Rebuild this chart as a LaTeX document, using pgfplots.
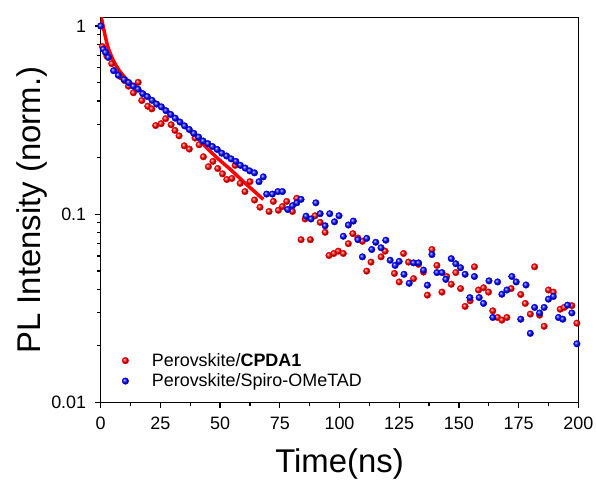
\documentclass[border=0pt]{standalone}
\usepackage{fontspec}
\setmainfont{Liberation Sans}
\usepackage{pgfplots}
\pgfplotsset{compat=1.18}
\begin{document}
\begin{tikzpicture}
\begin{axis}[
  scale only axis, width=477.6bp, height=384.8bp,
  xmin=0, xmax=200, ymode=log, ymin=0.01, ymax=1.107,
  xtick={0,25,50,75,100,125,150,175,200},
  minor xtick={12.5,37.5,62.5,87.5,112.5,137.5,162.5,187.5},
  ytick={0.01,0.1,1}, yticklabels={0.01,0.1,1},
  minor ytick={0.02,0.03,0.04,0.05,0.06,0.07,0.08,0.09,0.2,0.3,0.4,0.5,0.6,0.7,0.8,0.9},
  xtick pos=bottom, ytick pos=left, tick align=outside,
  major tick length=6bp, minor tick length=3.5bp,
  every tick/.style={black, line width=1.2bp},
  axis line style={line width=1.5bp},
  /pgf/number format/assume math mode=true,
  tick label style={font=\fontsize{18}{20}\selectfont},
  xticklabel style={yshift=-5bp},
  yticklabel style={xshift=-5bp},
  xlabel={Time(ns)}, ylabel={PL Intensity (norm.)},
  label style={font=\fontsize{33}{36}\selectfont},
  xlabel style={yshift=-12bp},
  ylabel style={yshift=-3bp},
  legend style={draw=none, fill=none, at={(0,0)}, anchor=south west, xshift=18bp, yshift=10bp,
    font=\fontsize{18}{20}\selectfont, row sep=2bp, column sep=21bp},
  legend cell align=left,
  legend image code/.code={\draw[mark repeat=2,mark phase=2] plot coordinates {(0bp,0bp)(10bp,0bp)(20bp,0bp)};},
]
\addplot[red, only marks, mark=ball, ball color=red, mark size=3.3bp] coordinates {
(0,1.0)(0.7,0.778)(2.6,0.692)(4.6,0.631)(6.5,0.582)(8.5,0.537)(10.0,0.513)(11.6,0.479)(13.7,0.442)(15.7,0.502)
(17.2,0.402)(19.7,0.375)(21.4,0.363)(23.0,0.296)(25.3,0.303)(27.2,0.322)(29.5,0.299)(31.1,0.279)(32.8,0.261)
(35.0,0.231)(37.1,0.222)(39.5,0.254)(41.2,0.234)(43.0,0.202)(45.1,0.179)(47.0,0.191)(49.0,0.175)(51.0,0.164)
(52.8,0.153)(54.9,0.155)(56.3,0.182)(58.4,0.146)(60.4,0.132)(62.5,0.149)(64.4,0.119)(66.7,0.109)(70.5,0.1035)
(72.3,0.117)(74.4,0.105)(76.1,0.110)(77.9,0.117)(80.3,0.1035)(82.1,0.1216)(83.9,0.0733)(85.6,0.0944)(87.8,0.0733)
(89.8,0.0982)(91.9,0.0906)(94.0,0.0802)(95.6,0.0604)(97.6,0.0619)(99.5,0.0637)(101.6,0.0619)(103.7,0.0698)
(105.6,0.0789)(107.7,0.0748)(109.6,0.0719)(111.4,0.0499)(113.2,0.0557)(117.4,0.0594)(119.1,0.0637)(123.0,0.0485)
(125.0,0.0437)(126.8,0.0619)(128.9,0.0557)(131.0,0.0455)(133.1,0.0542)(135.2,0.0493)(136.8,0.0372)(138.7,0.0650)
(140.8,0.0535)(142.9,0.0386)(144.9,0.0467)(146.8,0.0425)(148.7,0.0490)(150.7,0.0403)(152.6,0.0324)(154.7,0.0347)
(156.5,0.0526)(158.2,0.0396)(160.3,0.0407)(162.4,0.0386)(164.2,0.0307)(166.2,0.0283)(168.0,0.0274)(170.1,0.0283)
(171.9,0.0403)(175.9,0.0375)(177.8,0.0336)(179.9,0.0295)(181.7,0.0526)(183.8,0.0291)(185.7,0.0254)(187.5,0.0396)
(189.6,0.0386)(192.4,0.0313)(194.1,0.0320)(197.3,0.0327)(199.4,0.0264)(201.5,0.0327)
};
\addlegendentry{Perovskite/\textbf{CPDA1}}
\addplot[blue, only marks, mark=ball, ball color=blue, mark size=3.3bp] coordinates {
(0,1.000)(1.1,0.753)(2.0,0.724)(3.2,0.681)(5.4,0.579)(7.4,0.547)(9.8,0.519)(11.7,0.501)(13.7,0.479)(15.6,0.462)
(17.6,0.437)(19.5,0.422)(21.5,0.403)(23.4,0.385)(25.4,0.372)(27.3,0.355)(29.3,0.339)(31.2,0.324)(33.2,0.309)
(35.1,0.295)(37.1,0.282)(39.0,0.269)(41.0,0.257)(42.9,0.245)(44.9,0.237)(46.8,0.229)(48.8,0.221)(50.7,0.211)
(52.7,0.204)(54.6,0.197)(56.6,0.191)(58.5,0.182)(60.5,0.176)(62.4,0.170)(64.4,0.166)(66.3,0.149)(68.1,0.158)
(69.5,0.128)(71.9,0.128)(74.2,0.132)(76.1,0.132)(78.3,0.106)(80.3,0.111)(82.1,0.115)(83.9,0.120)(86.0,0.0977)
(88.1,0.0944)(90.1,0.115)(91.9,0.1007)(94.0,0.0869)(95.9,0.1007)(97.9,0.0912)(99.8,0.0982)(101.6,0.0764)
(103.7,0.0877)(105.8,0.0920)(107.7,0.0733)(109.6,0.0594)(111.4,0.0745)(113.5,0.0650)(115.2,0.0710)(117.4,0.0664)
(119.4,0.0728)(121.2,0.0570)(123.3,0.0535)(125.0,0.0562)(127.0,0.0480)(129.2,0.0430)(131.0,0.0552)(133.1,0.0552)
(135.2,0.0505)(136.8,0.0420)(138.7,0.0611)(140.8,0.0490)(142.9,0.0490)(144.5,0.0451)(146.8,0.0581)(148.7,0.0546)
(150.7,0.0520)(152.6,0.0480)(154.6,0.0361)(156.5,0.0467)(158.5,0.0361)(160.3,0.0336)(162.6,0.0443)(164.2,0.0283)
(166.2,0.0437)(168.0,0.0376)(170.1,0.0396)(172.2,0.0467)(174.0,0.0437)(175.9,0.0277)(178.1,0.0421)(179.9,0.0233)
(181.7,0.0320)(183.8,0.0299)(185.7,0.0320)(187.5,0.0354)(189.6,0.0366)(191.7,0.0283)(193.5,0.0277)(195.5,0.0329)
(197.3,0.0299)(199.4,0.0205)(201.2,0.0299)
};
\addlegendentry{Perovskite/Spiro-OMeTAD}
\addplot[red, line width=3.5bp, smooth, tension=0.5, forget plot] coordinates {
(0,1.122)(0.5,1.072)(1,1.0)(1.5,0.933)(2,0.871)(3,0.776)(4,0.716)(5,0.668)(6,0.631)(8,0.575)(10,0.535)
(13,0.492)(16.5,0.455)(20,0.420)(25,0.376)(30,0.336)(35,0.295)(40,0.257)(45,0.221)(50,0.193)(55,0.170)
(60,0.148)(65,0.130)(68.1,0.120)
};
\end{axis}
\pgfresetboundingbox
\path[use as bounding box] (-100.7bp,-77.5bp) rectangle (495.3bp,402.5bp);
\end{tikzpicture}
\end{document}
